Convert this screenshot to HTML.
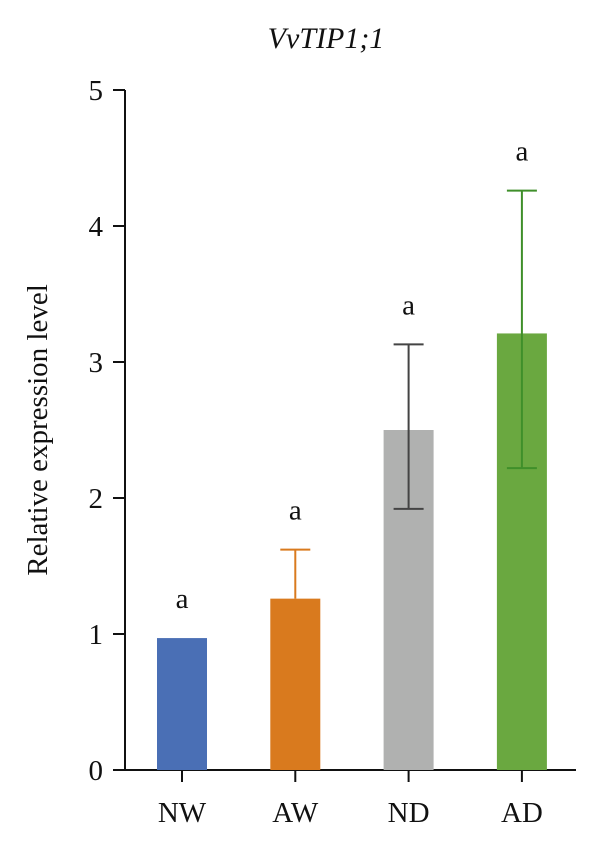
<!DOCTYPE html>
<html><head><meta charset="utf-8"><style>
body{margin:0;background:#fff}
svg text{font-family:"Liberation Serif",serif;fill:#111}
</style></head><body>
<svg id="chart" width="600" height="854" viewBox="0 0 600 854">
<text x="326" y="48" font-size="30" font-style="italic" text-anchor="middle">VvTIP1;1</text>
<text transform="translate(47,430) rotate(-90)" font-size="29" text-anchor="middle">Relative expression level</text>
<g id="plot"></g>
</svg>
<script>
const categories=["NW","AW","ND","AD"];
const values=[0.97,1.26,2.5,3.21];
const errUp=[0,0.36,0.63,1.05];
const errDown=[0,0,0.58,0.99];
const colors=["#4a6fb5","#d97a1e","#b0b1b0","#6aa840"];
const errColors=["#4a6fb5","#d97a1e","#444","#3f8f2a"];
const letters=["a","a","a","a"];
const yTicks=[0,1,2,3,4,5];
const NS="http://www.w3.org/2000/svg";
const g=document.getElementById("plot");
const y0=770,yTop=90,yMax=5;
const y=v=>y0-(y0-yTop)*v/yMax;
const x=i=>182+i*113.3;
const bw=50;
function mk(t,a){const e=document.createElementNS(NS,t);for(const k in a)e.setAttribute(k,a[k]);g.appendChild(e);return e;}
let ax=mk("line",{x1:125,y1:yTop,x2:125,y2:y0,stroke:"#111","stroke-width":2});


let xa=mk("line",{x1:124,y1:y0,x2:576,y2:y0,stroke:"#111","stroke-width":2});


yTicks.forEach(t=>{
 let l=mk("line",{x1:113,y1:y(t),x2:125,y2:y(t),stroke:"#111","stroke-width":2});
 
 
 let tx=mk("text",{x:103,y:y(t)+10,"font-size":29,"text-anchor":"end"});
 tx.textContent=t;
 
 
});
categories.forEach((c,i)=>{
 let cx=x(i);
 let r=mk("rect",{x:cx-bw/2,y:y(values[i]),width:bw,height:y0-y(values[i]),fill:colors[i]});
 
 
 let t=mk("line",{x1:cx,y1:y0+1,x2:cx,y2:y0+12,stroke:"#111","stroke-width":2});
 
 
 let lb=mk("text",{x:cx,y:y0+52,"font-size":29,"text-anchor":"middle"});
 lb.textContent=c;
 
 
 const hi=values[i]+errUp[i],lo=values[i]-errDown[i];
 if(errUp[i]>0){
  let e=mk("path",{d:`M${cx} ${y(lo)}V${y(hi)}M${cx-15} ${y(hi)}H${cx+15}`+(errDown[i]>0?`M${cx-15} ${y(lo)}H${cx+15}`:""),stroke:errColors[i],"stroke-width":2,fill:"none"});
  
  
 }
 let a=mk("text",{x:cx,y:y(hi)-30,"font-size":29,"text-anchor":"middle"});
 a.textContent=letters[i];
 
 
});
</script>
</body></html>
